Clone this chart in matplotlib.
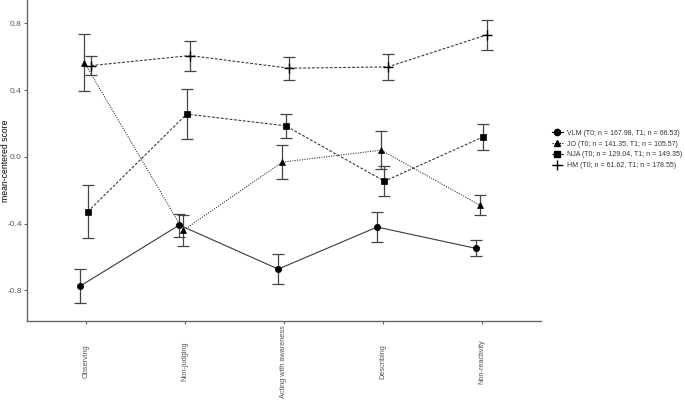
import numpy as np
import matplotlib
matplotlib.use("Agg")
import matplotlib.pyplot as plt
from matplotlib.lines import Line2D

plt.rcParams["font.family"] = ["Liberation Sans", "DejaVu Sans"]

facets = ["Observing", "Non-judging", "Acting with awareness", "Describing", "Non-reactivity"]
groups = ["VLM (T0; n = 167.98, T1; n = 66.53)",
          "JO (T0; n = 141.35, T1; n = 105.57)",
          "NJA (T0; n = 129.04, T1; n = 149.35)",
          "HM (T0; n = 61.62, T1; n = 178.55)"]

vlm_mean = [-0.774, -0.409, -0.673, -0.421, -0.549]
vlm_se = [0.102, 0.069, 0.090, 0.090, 0.048]
jo_mean = [0.565, -0.441, -0.032, 0.040, -0.290]
jo_se = [0.170, 0.091, 0.100, 0.112, 0.060]
nja_mean = [-0.329, 0.256, 0.186, -0.146, 0.120]
nja_se = [0.160, 0.149, 0.071, 0.091, 0.079]
hm_mean = [0.547, 0.607, 0.531, 0.539, 0.731]
hm_se = [0.059, 0.090, 0.069, 0.080, 0.090]

means = [vlm_mean, jo_mean, nja_mean, hm_mean]
ses = [vlm_se, jo_se, nja_se, hm_se]
markers = ["o", "^", "s", "+"]
msizes = [4.5, 5.0, 4.5, 7.0]
styles = ["-", (0, (1, 1.2)), (0, (2.5, 1.5)), (0, (2.5, 1.5))]
dodge = [-0.057, -0.017, 0.017, 0.052]

fig = plt.figure(figsize=(6.85, 4.01), dpi=100)
ax = fig.add_axes([26.7 / 685, 1 - 321.3 / 401, (541 - 26.7) / 685, 321.3 / 401])

x = np.arange(1, len(facets) + 1)
handles = []
for m, s, mk, ms, ls, d, lab in zip(means, ses, markers, msizes, styles, dodge, groups):
    xs = x + d
    ax.plot(xs, m, color="#3a3a3a", lw=0.8, linestyle=ls, zorder=2)
    ax.errorbar(xs, m, yerr=s, fmt="none", ecolor="#444444", elinewidth=0.9,
                capsize=4, capthick=0.9, zorder=3)
    ax.plot(xs, m, marker=mk, linestyle="none", color="black", markersize=ms,
            markeredgewidth=1.0 if mk == "+" else 0.5, zorder=4)
    handles.append(Line2D([0], [0], color="black", lw=0.8, linestyle=ls,
                          marker=mk, markersize=ms, label=lab))

ax.set_xlim(0.4, 5.6)
ax.set_ylim(-0.986, 0.94)
ax.set_yticks([-0.8, -0.4, 0.0, 0.4, 0.8])
ax.set_yticklabels(["-0.8", "-0.4", "0.0", "0.4", "0.8"])
ax.set_xticks(x)
ax.set_xticklabels(facets, rotation=90, va="center", ha="center")
ax.tick_params(axis="x", pad=27, length=2, color="#666666", labelsize=5.3, labelcolor="#555555")
ax.tick_params(axis="y", pad=1.5, length=2, color="#666666", labelsize=6, labelcolor="#555555")
ax.set_ylabel("mean-centered score", fontsize=6.2, color="black")
ax.yaxis.set_label_coords(-0.0334, 0.5)

for side in ["top", "right"]:
    ax.spines[side].set_visible(False)
for side in ["left", "bottom"]:
    ax.spines[side].set_color("#666666")
    ax.spines[side].set_linewidth(1.0)

fig.legend(handles=handles, loc="center left", bbox_to_anchor=(549 / 685, 1 - 149.5 / 401),
           frameon=False, fontsize=5, handlelength=1.6, handletextpad=0.6,
           labelspacing=0.55, borderaxespad=0, labelcolor="#333333")

fig.savefig("out.png", dpi=100)
